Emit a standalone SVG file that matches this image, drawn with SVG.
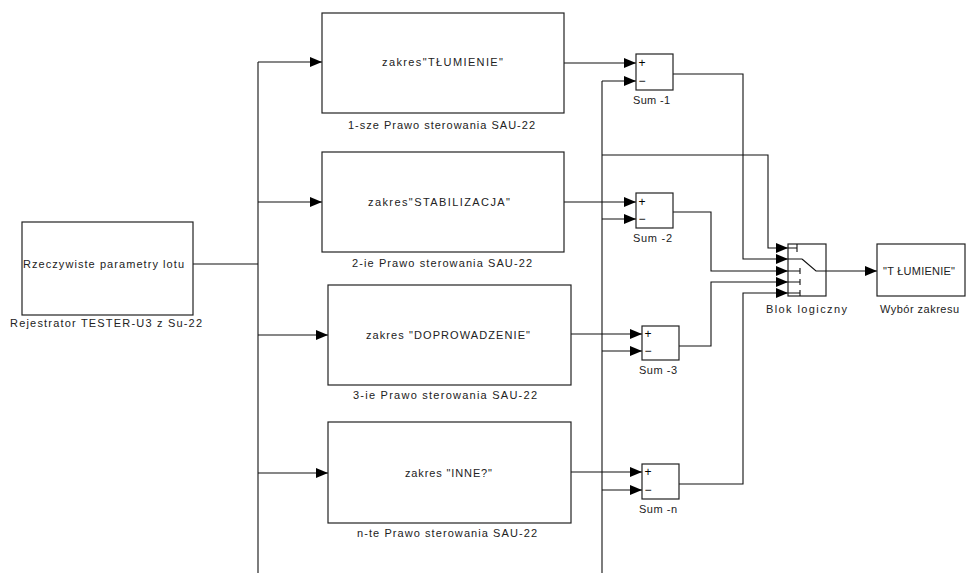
<svg xmlns="http://www.w3.org/2000/svg" width="967" height="573" viewBox="0 0 967 573">
<defs>
<marker id="arr" markerWidth="12" markerHeight="10" refX="12" refY="5" orient="auto" markerUnits="userSpaceOnUse">
<path d="M0,0 L12,5 L0,10 Z" fill="#000"/>
</marker>
<style>
.blk{fill:#fff;stroke:#222;stroke-width:1.2}
.ln{fill:none;stroke:#111;stroke-width:1.1}
.la{fill:none;stroke:#111;stroke-width:1.1;marker-end:url(#arr)}
text{font-family:"Liberation Sans",Arial,sans-serif;font-size:11px;fill:#222}
.s{font-size:12px;fill:#000;text-anchor:middle}
</style>
</defs>
<rect width="967" height="573" fill="#fff"/>

<g id="connectors">
<path class="ln" d="M193,264 H258"/>
<path class="ln" d="M258,62 V573"/>
<path class="la" d="M258,62 H322"/>
<path class="la" d="M258,202 H322"/>
<path class="la" d="M258,335 H328"/>
<path class="la" d="M258,473 H328"/>
<path class="la" d="M564,63 H636"/>
<path class="la" d="M564,202 H636"/>
<path class="la" d="M571,334 H642"/>
<path class="la" d="M571,472 H642"/>
<path class="ln" d="M602,81 V573"/>
<path class="la" d="M602,81 H636"/>
<path class="la" d="M602,219 H636"/>
<path class="la" d="M602,351 H642"/>
<path class="la" d="M602,490 H642"/>
<path class="la" d="M602,155 H768 V248 H788"/>
<path class="la" d="M673,74 H743 V259 H788"/>
<path class="la" d="M673,212 H711 V271 H788"/>
<path class="la" d="M679,346 H711 V282 H788"/>
<path class="la" d="M679,484 H743 V293 H788"/>
<path class="la" d="M826,271 H877"/>
</g>

<g id="rejestrator">
<rect class="blk" x="22" y="222" width="171" height="93"/>
<text x="23" y="268" textLength="161" lengthAdjust="spacing">Rzeczywiste parametry lotu</text>
<text x="10" y="327" textLength="192" lengthAdjust="spacing">Rejestrator TESTER-U3 z Su-22</text>
</g>

<g id="prawo1">
<rect class="blk" x="322" y="13" width="242" height="100"/>
<text x="382" y="66" textLength="121" lengthAdjust="spacing">zakres"TŁUMIENIE"</text>
<text x="348" y="129" textLength="187" lengthAdjust="spacing">1-sze Prawo sterowania SAU-22</text>
</g>

<g id="prawo2">
<rect class="blk" x="322" y="152" width="242" height="100"/>
<text x="368" y="206" textLength="142" lengthAdjust="spacing">zakres"STABILIZACJA"</text>
<text x="352" y="267" textLength="180" lengthAdjust="spacing">2-ie Prawo sterowania SAU-22</text>
</g>

<g id="prawo3">
<rect class="blk" x="328" y="285" width="243" height="100"/>
<text x="366" y="339" textLength="164" lengthAdjust="spacing">zakres "DOPROWADZENIE"</text>
<text x="353" y="399" textLength="184" lengthAdjust="spacing">3-ie Prawo sterowania SAU-22</text>
</g>

<g id="prawon">
<rect class="blk" x="328" y="422" width="243" height="101"/>
<text x="405" y="477" textLength="87" lengthAdjust="spacing">zakres "INNE?"</text>
<text x="357" y="537" textLength="180" lengthAdjust="spacing">n-te Prawo sterowania SAU-22</text>
</g>

<g id="sum1">
<rect class="blk" x="636" y="54" width="37" height="36"/>
<text x="642" y="67" class="s">+</text>
<text x="642" y="85" class="s">−</text>
<text x="633" y="104" textLength="37" lengthAdjust="spacing">Sum -1</text>
</g>

<g id="sum2">
<rect class="blk" x="636" y="193" width="37" height="35"/>
<text x="642" y="206" class="s">+</text>
<text x="642" y="223" class="s">−</text>
<text x="633" y="242" textLength="39" lengthAdjust="spacing">Sum -2</text>
</g>

<g id="sum3">
<rect class="blk" x="642" y="326" width="37" height="34"/>
<text x="648" y="338" class="s">+</text>
<text x="648" y="355" class="s">−</text>
<text x="639" y="374" textLength="38" lengthAdjust="spacing">Sum -3</text>
</g>

<g id="sumn">
<rect class="blk" x="642" y="464" width="37" height="35"/>
<text x="648" y="476" class="s">+</text>
<text x="648" y="494" class="s">−</text>
<text x="639" y="513" textLength="38" lengthAdjust="spacing">Sum -n</text>
</g>

<g id="blok-logiczny">
<rect class="blk" x="788" y="244" width="38" height="52"/>
<path class="ln" d="M788,248 H797 M797,244 V252 M788,259 H802 M788,271 H800 M800,268 V274 M788,282 H800 M800,279 V285 M788,293 H800 M800,290 V296 M802,259 L816,271 H826"/>
<text x="766" y="313" textLength="81" lengthAdjust="spacing">Blok logiczny</text>
</g>

<g id="wybor-zakresu">
<rect class="blk" x="877" y="244" width="88" height="52"/>
<text x="883" y="275" textLength="72" lengthAdjust="spacing">"T ŁUMIENIE"</text>
<text x="880" y="313" textLength="79" lengthAdjust="spacing">Wybór zakresu</text>
</g>
</svg>
